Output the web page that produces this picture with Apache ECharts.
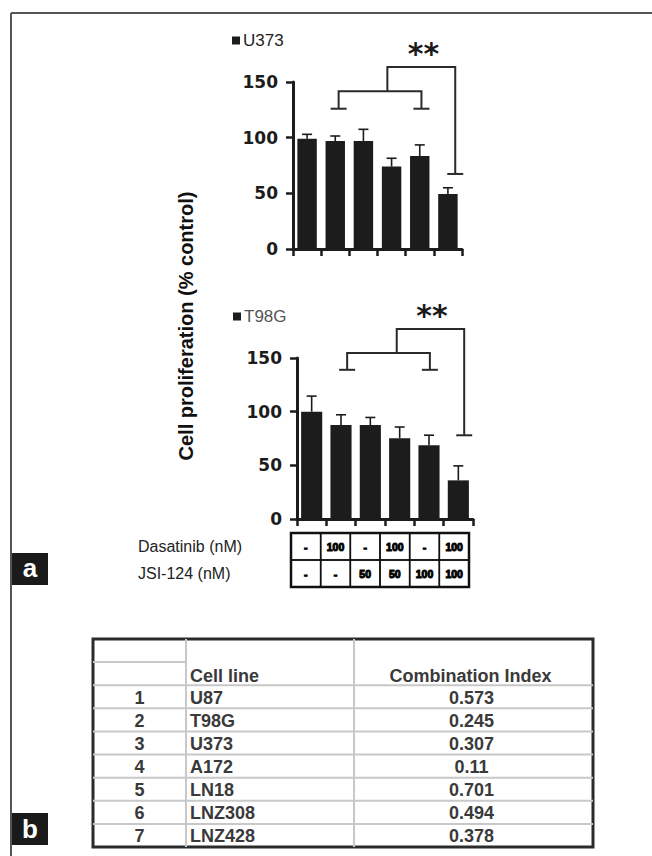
<!DOCTYPE html>
<html><head><meta charset="utf-8">
<script src="https://cdn.jsdelivr.net/npm/echarts@6/dist/echarts.min.js"></script>
<style>html,body{margin:0;padding:0;background:#fff}#c{width:652px;height:856px}</style>
</head><body><div id="c"></div>
<script>
// ---------- data ----------
const conditions = ['C1','C2','C3','C4','C5','C6'];
const dasatinibDose = ['-','100','-','100','-','100'];
const jsiDose = ['-','-','50','50','100','100'];
const doseRows = ['Dasatinib (nM)','JSI-124 (nM)'];
const yTicks = [0, 50, 100, 150];
const u373Mean = [99, 97, 97, 74, 83.5, 49.5];
const u373Sd   = [4, 4.5, 10.5, 7.5, 10, 5.5];
const t98gMean = [100, 87.6, 87.6, 75.2, 68.6, 36];
const t98gSd   = [14.5, 9.5, 7, 10.5, 9.5, 13.5];
// significance brackets (category units / % control):
// [innerLeftLeg, innerRightLeg, innerTop, innerLegEnd, stemX, outerRightLeg, outerTop, outerLegEnd, starX, starY]
const u373Bracket = [1.12, 4.06, 141.6, 126, 2.85, 5.26, 163.4, 67.4, 4.13, 176];
const t98gBracket = [1.21, 4.03, 154.7, 139, 2.9, 5.2, 177, 78, 4.1, 190];
const sigLabel = '**';
const ciIds = ['1','2','3','4','5','6','7'];
const ciCellLines = ['U87','T98G','U373','A172','LN18','LNZ308','LNZ428'];
const ciValues = ['0.573','0.245','0.307','0.11','0.701','0.494','0.378'];
const ciHeader = ['Cell line','Combination Index'];

// ---------- styles ----------
const FD = 'DejaVu Sans', FL = 'Liberation Sans';
const INK = '#1c1c1c';

function catAxis(g){
  return {type:'category', gridIndex:g, data:conditions, boundaryGap:true,
    axisLine:{show:true, onZero:false, lineStyle:{color:INK, width:3}},
    axisTick:{show:true, length:7, lineStyle:{color:INK, width:2.5}},
    axisLabel:{show:false}, splitLine:{show:false}};
}
function hidAxis(g){ return {type:'value', gridIndex:g, min:-0.5, max:5.5, show:false, axisLine:{onZero:false}}; }
function valAxis(g){
  return {type:'value', gridIndex:g, min:yTicks[0], max:yTicks[yTicks.length-1], interval:yTicks[1]-yTicks[0],
    axisLine:{show:true, onZero:false, lineStyle:{color:INK, width:3}},
    axisTick:{show:true, length:7, lineStyle:{color:INK, width:2.5}},
    axisLabel:{fontFamily:FD, fontWeight:'bold', fontSize:17, color:INK, margin:15},
    splitLine:{show:false}};
}
function errRender(params, api){
  const x = api.value(0);
  const lo = api.coord([x, api.value(1)]), hi = api.coord([x, api.value(2)]);
  const w = 5, st = {stroke:INK, lineWidth:1.6};
  return {type:'group', children:[
    {type:'line', shape:{x1:lo[0], y1:lo[1], x2:hi[0], y2:hi[1]}, style:st},
    {type:'line', shape:{x1:hi[0]-w, y1:hi[1], x2:hi[0]+w, y2:hi[1]}, style:st}
  ]};
}
function bracketRender(params, api){
  const v = k => api.value(k);
  const P = (x, y) => api.coord([x, y]);
  const a = P(v(0), v(3)), b = P(v(0), v(2)), c = P(v(1), v(2)), d = P(v(1), v(3));
  const s0 = P(v(4), v(2)), s1 = P(v(4), v(6)), e = P(v(5), v(6)), f = P(v(5), v(7));
  const star = P(v(8), v(9));
  const st = {stroke:'#2a2a2a', lineWidth:2, fill:'none'};
  const cap = (p) => ({type:'line', shape:{x1:p[0]-8, y1:p[1], x2:p[0]+8, y2:p[1]}, style:st});
  return {type:'group', children:[
    {type:'polyline', shape:{points:[a, b, c, d]}, style:st},
    cap(a), cap(d),
    {type:'polyline', shape:{points:[s0, s1, e, f]}, style:st},
    cap(f),
    {type:'text', x:star[0], y:star[1], style:{text:sigLabel, fontFamily:FD, fontWeight:'bold', fontSize:30, fill:'#1a1a1a', align:'center', verticalAlign:'middle'}}
  ]};
}
const doseValues = [dasatinibDose, jsiDose];
const doseData = [];
doseRows.forEach((_, r) => conditions.forEach((_, c) => doseData.push([c, r])));

const COL = [0, 0.186, 0.522, 1];
const GRAY = '#c8c8c8';
function ciHeaderRender(params, api){
  const P = (x, y) => api.coord([x, y]);
  const st = {stroke:GRAY, lineWidth:2};
  const ln = (p, q) => ({type:'line', shape:{x1:p[0], y1:p[1], x2:q[0], y2:q[1]}, style:st});
  const t1 = P(COL[1], 1.5), t2 = P((COL[2]+COL[3])/2, 1.5);
  return {type:'group', children:[
    ln(P(COL[1], 0), P(COL[1], 9)),
    ln(P(COL[2], 0), P(COL[2], 9)),
    ln(P(0, 1), P(COL[1], 1)),
    ln(P(0, 2), P(1, 2)),
    {type:'text', x:t1[0]+4, y:t1[1]+2, style:{text:ciHeader[0], fontFamily:FL, fontWeight:'bold', fontSize:18, fill:'#3a3a3a', align:'left', verticalAlign:'middle'}},
    {type:'text', x:t2[0]-3, y:t2[1]+2, style:{text:ciHeader[1], fontFamily:FL, fontWeight:'bold', fontSize:18, fill:'#3a3a3a', align:'center', verticalAlign:'middle'}}
  ]};
}
function ciRowRender(params, api){
  const i = params.dataIndex, y = api.value(1);
  const P = (x, yy) => api.coord([x, yy]);
  const st = {stroke:GRAY, lineWidth:2};
  const ch = [];
  if (i < ciIds.length - 1) {
    const p = P(0, y+1), q = P(1, y+1);
    ch.push({type:'line', shape:{x1:p[0], y1:p[1], x2:q[0], y2:q[1]}, style:st});
  }
  const ts = {fontFamily:FL, fontWeight:'bold', fontSize:18, fill:'#3a3a3a', verticalAlign:'middle'};
  const a = P((COL[0]+COL[1])/2, y+0.5), b = P(COL[1], y+0.5), c = P((COL[2]+COL[3])/2, y+0.5);
  ch.push({type:'text', x:a[0], y:a[1]+1, style:Object.assign({text:ciIds[i], align:'center'}, ts)});
  ch.push({type:'text', x:b[0]+4, y:b[1]+1, style:Object.assign({text:ciCellLines[i], align:'left'}, ts)});
  ch.push({type:'text', x:c[0]-2, y:c[1]+1, style:Object.assign({text:ciValues[i], align:'center'}, ts)});
  return {type:'group', children:ch};
}

const chart = echarts.init(document.getElementById('c'), null, {renderer:'svg'});
chart.setOption({
  animation:false,
  backgroundColor:'#fff',
  legend:[
    {data:['U373'], left:232, top:32, padding:0, itemWidth:8, itemHeight:8, icon:'rect', selectedMode:false,
     textStyle:{fontFamily:FL, fontSize:17, color:'#222', padding:[0,0,0,-2]}},
    {data:['T98G'], left:233, top:308, padding:0, itemWidth:8, itemHeight:8, icon:'rect', selectedMode:false,
     textStyle:{fontFamily:FL, fontSize:17, color:'#555', padding:[0,0,0,-2]}}
  ],
  grid:[
    {left:293, top:82, width:169, height:167},
    {left:297, top:358, width:176, height:161},
    {left:291, top:533, width:178, height:54, show:true, borderColor:'#111', borderWidth:2.5, backgroundColor:'transparent'},
    {left:93, top:639, width:500, height:208, show:true, borderColor:'#2b2b2b', borderWidth:3, backgroundColor:'transparent'}
  ],
  xAxis:[
    catAxis(0), hidAxis(0), catAxis(1), hidAxis(1),
    {type:'category', gridIndex:2, data:conditions, show:false},
    {type:'value', gridIndex:3, min:0, max:1, show:false}
  ],
  yAxis:[
    valAxis(0), valAxis(1),
    {type:'category', gridIndex:2, data:doseRows, inverse:true,
     axisLine:{show:false}, axisTick:{show:false}, splitLine:{show:false},
     axisLabel:{align:'left', margin:153, fontFamily:FL, fontSize:16, color:'#222'}},
    {type:'value', gridIndex:3, min:0, max:9, inverse:true, show:false}
  ],
  series:[
    {name:'U373', type:'bar', xAxisIndex:0, yAxisIndex:0, data:u373Mean, barWidth:'69%', itemStyle:{color:INK}},
    {type:'custom', xAxisIndex:1, yAxisIndex:0, z:3, renderItem:errRender,
     data:u373Mean.map((m, i) => [i, m, m + u373Sd[i]])},
    {type:'custom', xAxisIndex:1, yAxisIndex:0, z:3, renderItem:bracketRender, data:[u373Bracket]},
    {name:'T98G', type:'bar', xAxisIndex:2, yAxisIndex:1, data:t98gMean, barWidth:'72%', itemStyle:{color:INK}},
    {type:'custom', xAxisIndex:3, yAxisIndex:1, z:3, renderItem:errRender,
     data:t98gMean.map((m, i) => [i, m, m + t98gSd[i]])},
    {type:'custom', xAxisIndex:3, yAxisIndex:1, z:3, renderItem:bracketRender, data:[t98gBracket]},
    {type:'custom', xAxisIndex:4, yAxisIndex:2, z:3, data:doseData,
     renderItem:function(params, api){
       const c = api.value(0), r = api.value(1);
       const p = api.coord([c, r]), s = api.size([1, 1]);
       return {type:'group', children:[
         {type:'rect', shape:{x:p[0]-s[0]/2, y:p[1]-s[1]/2, width:s[0], height:s[1]}, style:{fill:'none', stroke:'#111', lineWidth:1.5}},
         {type:'text', x:p[0], y:p[1]+0.5, style:{text:doseValues[r][c], fontFamily:FL, fontWeight:'bold', fontSize:10.5, fill:'#000', stroke:'#000', lineWidth:1, align:'center', verticalAlign:'middle'}}
       ]};
     }},
    {type:'custom', xAxisIndex:5, yAxisIndex:3, z:3, data:[[0, 0]], renderItem:ciHeaderRender},
    {type:'custom', xAxisIndex:5, yAxisIndex:3, z:3, data:ciIds.map((_, i) => [0, i + 2]), renderItem:ciRowRender}
  ],
  graphic:{elements:[
    {type:'line', shape:{x1:11, y1:13, x2:652, y2:13}, style:{stroke:'#555', lineWidth:2}},
    {type:'line', shape:{x1:11, y1:13, x2:11, y2:856}, style:{stroke:'#555', lineWidth:2}},
    {type:'text', x:186, y:326, rotation:Math.PI/2,
     style:{text:'Cell proliferation (% control)', fontFamily:FL, fontWeight:'bold', fontSize:20, fill:'#111', align:'center', verticalAlign:'middle'}},
    {type:'rect', shape:{x:12, y:553, width:36, height:32}, style:{fill:'#1a1a1a'}},
    {type:'text', x:30, y:568, style:{text:'a', fontFamily:FL, fontWeight:'bold', fontSize:26, fill:'#fff', align:'center', verticalAlign:'middle'}},
    {type:'rect', shape:{x:12, y:813, width:36, height:32}, style:{fill:'#1a1a1a'}},
    {type:'text', x:30, y:829, style:{text:'b', fontFamily:FL, fontWeight:'bold', fontSize:26, fill:'#fff', align:'center', verticalAlign:'middle'}}
  ]}
});
</script>
</body></html>
